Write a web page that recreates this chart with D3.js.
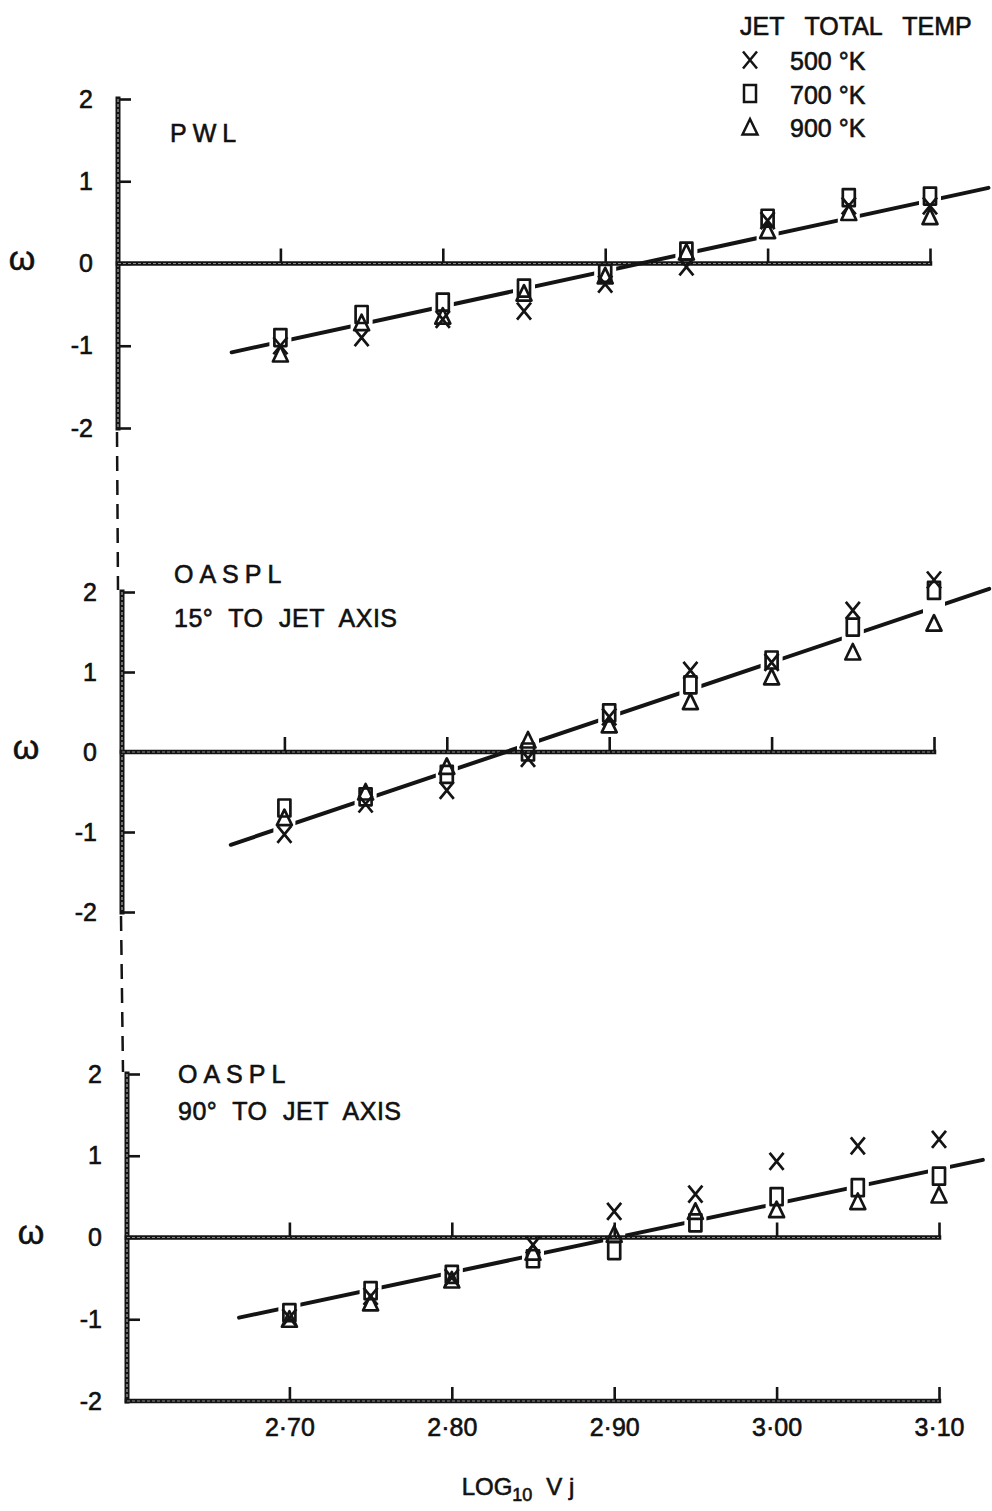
<!DOCTYPE html>
<html>
<head>
<meta charset="utf-8">
<script src="https://cdn.jsdelivr.net/npm/d3@7"></script>
<style>
  body { margin: 0; background: #fff; }
  text { font-family: "Liberation Sans", Arial, sans-serif; fill: #111; stroke: #111; stroke-width: 0.6px; }
</style>
</head>
<body>
<svg id="chart" width="992" height="1511"></svg>
<script>
// ---- data ----
const logVj = [2.70, 2.75, 2.80, 2.85, 2.90, 2.95, 3.00, 3.05, 3.10];

// PWL
const pwl500 = [-1.00, -0.90, -0.68, -0.58, -0.25, -0.04, 0.52, 0.70, 0.70];
const pwl700 = [-0.90, -0.62, -0.47, -0.30, -0.12, 0.15, 0.55, 0.80, 0.82];
const pwl900 = [-1.10, -0.72, -0.64, -0.36, -0.15, 0.14, 0.40, 0.62, 0.57];

// OASPL, 15 deg to jet axis
const oa15_500 = [-1.03, -0.65, -0.48, -0.08, 0.44, 1.02, 1.12, 1.77, 2.15];
const oa15_700 = [-0.70, -0.56, -0.28, 0.00, 0.49, 0.84, 1.15, 1.56, 2.02];
const oa15_900 = [-0.82, -0.50, -0.18, 0.15, 0.34, 0.63, 0.94, 1.25, 1.61];

// OASPL, 90 deg to jet axis
const oa90_500 = [-0.98, -0.72, -0.49, -0.09, 0.32, 0.53, 0.93, 1.12, 1.20];
const oa90_700 = [-0.92, -0.65, -0.45, -0.26, -0.16, 0.18, 0.50, 0.61, 0.75];
const oa90_900 = [-1.00, -0.80, -0.52, -0.18, 0.04, 0.32, 0.34, 0.44, 0.52];

// fitted straight lines: [start, end] as [log10 Vj, omega]
const fitPWL  = [[2.670, -1.08], [3.136, 0.92]];
const fitOA15 = [[2.667, -1.16], [3.134, 2.04]];
const fitOA90 = [[2.669, -0.98], [3.127, 0.95]];

const legendTitle = "JET TOTAL TEMP";
const tempLabels = ["500 °K", "700 °K", "900 °K"];
const markerTypes = ["cross", "rect", "triangle"];

const xTicks = [2.70, 2.80, 2.90, 3.00, 3.10];
const yTicks = [-2, -1, 0, 1, 2];
const xDomain = [2.60, 3.10];
const yDomain = [-2, 2];

// ---- layout ----
const panels = [
  { title: ["PWL"], series: [pwl500, pwl700, pwl900], fit: fitPWL,
    left: 118, right: 930, top: 99, bottom: 428, titleX: 170, titleY: [142], baseAxis: false },
  { title: ["OASPL", "15° TO JET AXIS"], series: [oa15_500, oa15_700, oa15_900], fit: fitOA15,
    left: 122, right: 934, top: 592, bottom: 912, titleX: 174, titleY: [583, 627], baseAxis: false },
  { title: ["OASPL", "90° TO JET AXIS"], series: [oa90_500, oa90_700, oa90_900], fit: fitOA90,
    left: 127, right: 939, top: 1074, bottom: 1401, titleX: 178, titleY: [1083, 1120], baseAxis: true }
];

const svg = d3.select("#chart");
const ink = "#141414";
const fontStack = '"Liberation Sans", Arial, sans-serif';

function markerPath(type, cx, cy) {
  const p = d3.path();
  if (type === "cross") {
    p.moveTo(cx - 7, cy - 8.5); p.lineTo(cx + 7, cy + 8.5);
    p.moveTo(cx + 7, cy - 8.5); p.lineTo(cx - 7, cy + 8.5);
  } else if (type === "rect") {
    p.rect(cx - 6, cy - 8.5, 12, 17);
  } else {
    p.moveTo(cx, cy - 8); p.lineTo(cx + 7.5, cy + 7.5); p.lineTo(cx - 7.5, cy + 7.5); p.closePath();
  }
  return p.toString();
}

// heavy rule with a lighter core, like an inked double line
function heavyRule(g, x1, y1, x2, y2, w) {
  g.append("line").attr("x1", x1).attr("y1", y1).attr("x2", x2).attr("y2", y2)
    .attr("stroke", ink).attr("stroke-width", w).attr("stroke-linecap", "square");
  g.append("line").attr("x1", x1).attr("y1", y1).attr("x2", x2).attr("y2", y2)
    .attr("stroke", "#8a8a8a").attr("stroke-width", Math.max(w - 3.5, 0.8)).attr("stroke-dasharray", "3,2");
}

const fmtX = v => d3.format(".2f")(v).replace(".", "·");

function styleTickText(sel) {
  sel.attr("font-size", 25).attr("fill", ink).attr("stroke", ink).attr("stroke-width", 0.6)
    .attr("font-family", fontStack);
}

panels.forEach((pn, i) => {
  const x = d3.scaleLinear().domain(xDomain).range([pn.left, pn.right]);
  const y = d3.scaleLinear().domain(yDomain).range([pn.bottom, pn.top]);
  const g = svg.append("g");

  // y axis (ticks point into the plot)
  const yAxis = d3.axisLeft(y).tickValues(yTicks).tickSizeInner(-13).tickSizeOuter(0)
    .tickPadding(25).tickFormat(d => d < 0 ? "-" + Math.abs(d) : String(d));
  const ya = g.append("g").attr("transform", `translate(${pn.left},0)`).call(yAxis);
  ya.select(".domain").remove();
  ya.selectAll(".tick line").attr("stroke", ink).attr("stroke-width", 2.6);
  styleTickText(ya.selectAll(".tick text"));
  heavyRule(g, pn.left, pn.top, pn.left, pn.bottom, 5);

  // omega label
  g.append("text").attr("x", pn.left - 96).attr("y", y(0)).attr("dy", "0.2em")
    .attr("text-anchor", "middle").attr("font-size", 34).text("ω");

  // zero line with upward ticks
  const zAxis = d3.axisTop(x).tickValues(xTicks).tickSizeInner(15).tickSizeOuter(0).tickFormat("");
  const za = g.append("g").attr("transform", `translate(0,${y(0)})`).call(zAxis);
  za.select(".domain").remove();
  za.selectAll(".tick line").attr("stroke", ink).attr("stroke-width", 2.6);
  heavyRule(g, pn.left, y(0), pn.right, y(0), 4.5);

  // base axis with tick labels on the last panel
  if (pn.baseAxis) {
    const bAxis = d3.axisBottom(x).tickValues(xTicks).tickSizeInner(-14).tickSizeOuter(0)
      .tickPadding(17).tickFormat(fmtX);
    const ba = g.append("g").attr("transform", `translate(0,${y(-2)})`).call(bAxis);
    ba.select(".domain").remove();
    ba.selectAll(".tick line").attr("stroke", ink).attr("stroke-width", 2.6);
    styleTickText(ba.selectAll(".tick text"));
    heavyRule(g, pn.left, y(-2), pn.right, y(-2), 4.5);
  }

  // panel title
  pn.title.forEach((t, k) => {
    g.append("text").attr("x", pn.titleX).attr("y", pn.titleY[k])
      .attr("font-size", 25)
      .attr("letter-spacing", k === 0 ? 6 : 0.5)
      .attr("word-spacing", 8)
      .attr("xml:space", "preserve")
      .text(t);
  });

  // fitted line, broken where the symbols sit
  const fitLine = d3.scaleLinear().domain([pn.fit[0][0], pn.fit[1][0]]).range([pn.fit[0][1], pn.fit[1][1]]);
  const maskId = "gap" + i;
  const mask = svg.append("defs").append("mask").attr("id", maskId)
    .attr("maskUnits", "userSpaceOnUse").attr("x", 0).attr("y", 0).attr("width", 992).attr("height", 1511);
  mask.append("rect").attr("x", 0).attr("y", 0).attr("width", 992).attr("height", 1511).attr("fill", "#fff");
  mask.selectAll("rect.gap").data(logVj).join("rect").attr("class", "gap")
    .attr("x", d => x(d) - 11).attr("y", d => y(fitLine(d)) - 16)
    .attr("width", 22).attr("height", 32).attr("fill", "#000");
  g.append("path")
    .attr("d", d3.line().x(d => x(d[0])).y(d => y(d[1]))(pn.fit))
    .attr("stroke", ink).attr("stroke-width", 4).attr("stroke-linecap", "round")
    .attr("fill", "none").attr("mask", `url(#${maskId})`);

  // data symbols
  pn.series.forEach((vals, s) => {
    g.append("g").selectAll("path").data(vals).join("path")
      .attr("d", (v, j) => markerPath(markerTypes[s], x(logVj[j]), y(v)))
      .attr("fill", "none").attr("stroke", ink).attr("stroke-width", 2.7)
      .attr("stroke-linejoin", "round");
  });
});

// dashed links between the stacked ordinate axes
const links = [[panels[0], panels[1]], [panels[1], panels[2]]];
links.forEach(([a, b]) => {
  svg.append("line")
    .attr("x1", a.left - 1).attr("y1", a.bottom + 4)
    .attr("x2", b.left - 4).attr("y2", b.top - 2)
    .attr("stroke", ink).attr("stroke-width", 2.5).attr("stroke-dasharray", "15,9");
});

// x-axis title
const xt = svg.append("text").attr("x", 518).attr("y", 1495).attr("text-anchor", "middle").attr("font-size", 24);
xt.append("tspan").text("LOG");
xt.append("tspan").attr("font-size", 18).attr("dy", 6).text("10");
xt.append("tspan").attr("dy", -6).attr("dx", 14).text("V j");

// legend
const lg = svg.append("g");
lg.append("text").attr("x", 740).attr("y", 35).attr("font-size", 25)
  .attr("word-spacing", 14).attr("xml:space", "preserve").text(legendTitle);
tempLabels.forEach((t, k) => {
  const cy = 60 + k * 33.5;
  lg.append("path").attr("d", markerPath(markerTypes[k], 750, cy))
    .attr("fill", "none").attr("stroke", ink).attr("stroke-width", 2.5);
  lg.append("text").attr("x", 790).attr("y", cy + 10).attr("font-size", 25).text(t);
});
</script>
</body>
</html>
